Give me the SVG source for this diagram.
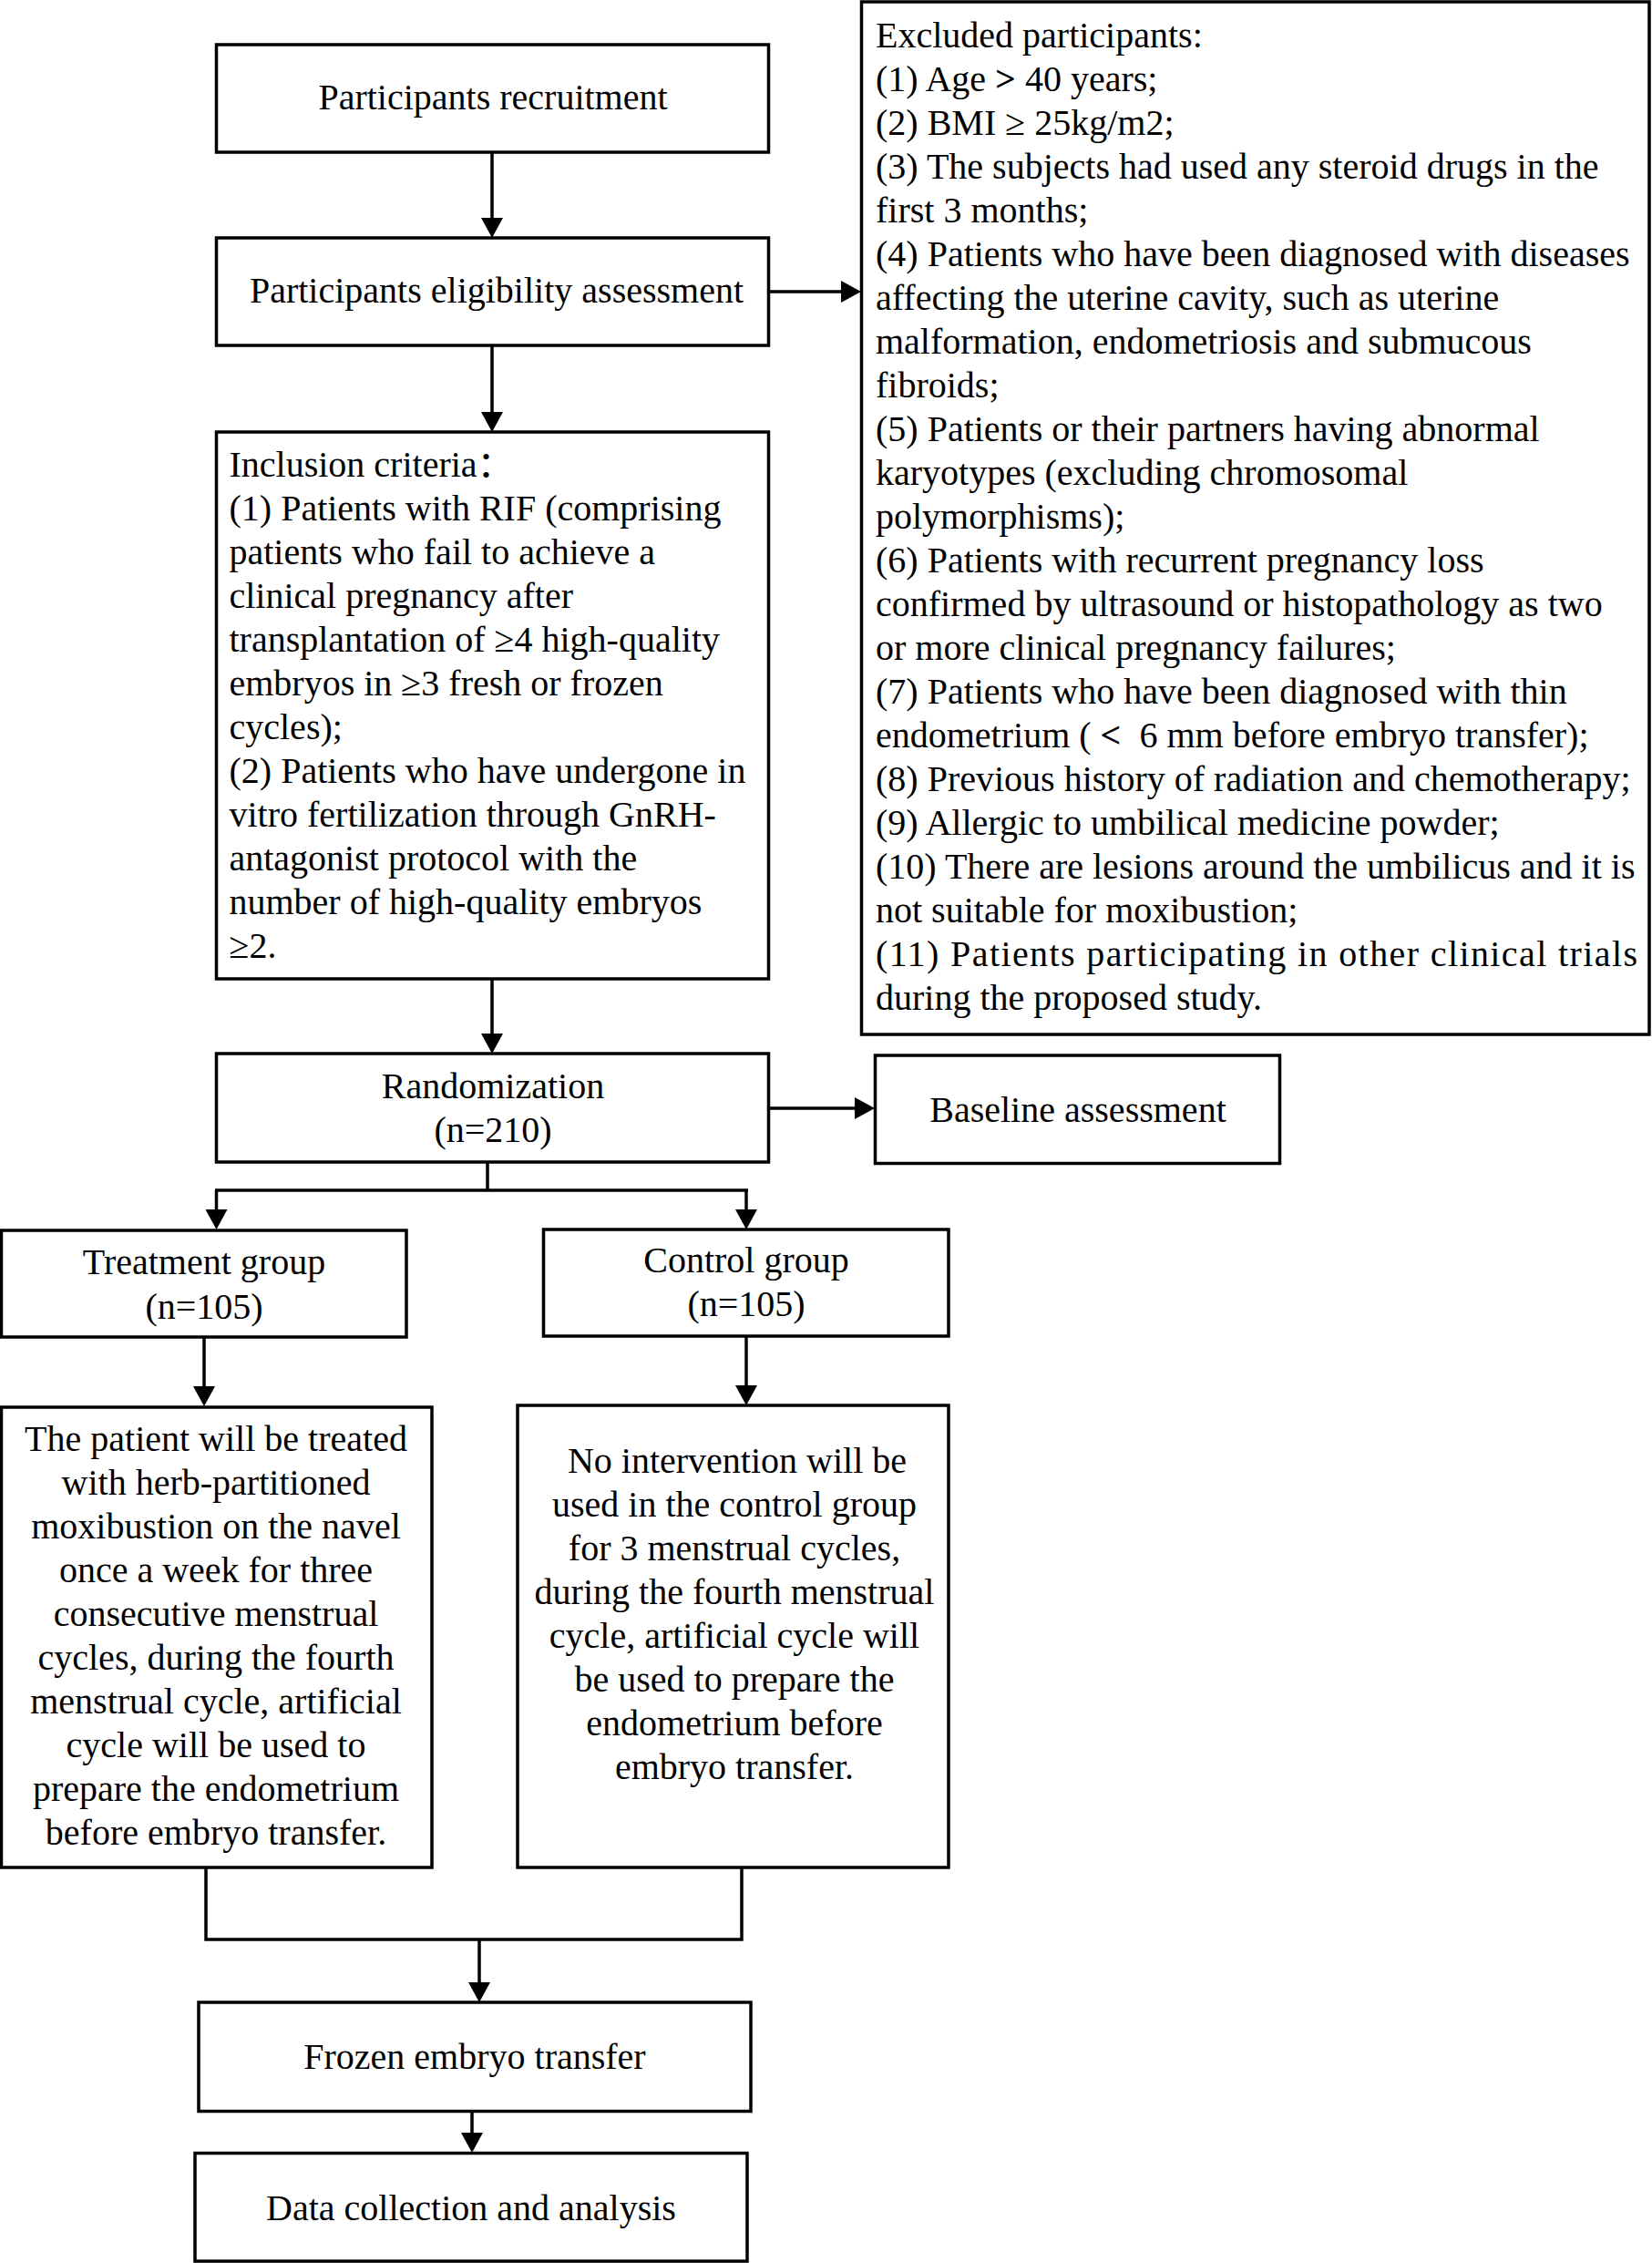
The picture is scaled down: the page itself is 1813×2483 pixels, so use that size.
<svg xmlns="http://www.w3.org/2000/svg" width="1813" height="2483" viewBox="0 0 1813 2483">
<style>
  .box{fill:#fff;stroke:#000;stroke-width:3.5}
  .t{font-family:"Liberation Serif","Times New Roman","Noto Sans CJK SC",serif;font-size:40px;fill:#000}
  .c{text-anchor:middle}
  .b{font-weight:bold}
  .ln{fill:none;stroke:#000;stroke-width:3.5}
</style>
<defs>
  <marker id="ah" viewBox="0 0 22 24" refX="0" refY="12" markerWidth="22" markerHeight="24" orient="auto" markerUnits="userSpaceOnUse">
    <path d="M0,0 L22,12 L0,24 Z" fill="#000"/>
  </marker>
</defs>
<rect width="1813" height="2483" fill="#fff"/>

<g id="connectors">
  <path class="ln" d="M540,167 V239" marker-end="url(#ah)"/>
  <path class="ln" d="M844,320 H923" marker-end="url(#ah)"/>
  <path class="ln" d="M540,379 V452" marker-end="url(#ah)"/>
  <path class="ln" d="M540,1074 V1134" marker-end="url(#ah)"/>
  <path class="ln" d="M844,1216 H938" marker-end="url(#ah)"/>
  <path class="ln" d="M535,1275 V1306"/>
  <path class="ln" d="M236,1306 H821"/>
  <path class="ln" d="M237.5,1306 V1327" marker-end="url(#ah)"/>
  <path class="ln" d="M819,1306 V1327" marker-end="url(#ah)"/>
  <path class="ln" d="M224,1467 V1521" marker-end="url(#ah)"/>
  <path class="ln" d="M819,1466 V1520" marker-end="url(#ah)"/>
  <path class="ln" d="M226,2049 V2128 H814 V2049"/>
  <path class="ln" d="M526,2128 V2175" marker-end="url(#ah)"/>
  <path class="ln" d="M518,2317 V2340" marker-end="url(#ah)"/>
</g>

<g id="recruitment">
  <rect class="box" x="237.5" y="49" width="606" height="118"/>
  <text class="t c" x="541" y="120">Participants recruitment</text>
</g>

<g id="eligibility">
  <rect class="box" x="237.5" y="261" width="606" height="118"/>
  <text class="t c" x="545" y="332">Participants eligibility assessment</text>
</g>

<g id="inclusion">
  <rect class="box" x="237.5" y="474" width="606" height="600"/>
  <text class="t" x="251.5" y="523">Inclusion criteria：</text>
  <text class="t" x="251.5" y="571">(1) Patients with RIF (comprising</text>
  <text class="t" x="251.5" y="619">patients who fail to achieve a</text>
  <text class="t" x="251.5" y="667">clinical pregnancy after</text>
  <text class="t" x="251.5" y="715">transplantation of ≥4 high-quality</text>
  <text class="t" x="251.5" y="763">embryos in ≥3 fresh or frozen</text>
  <text class="t" x="251.5" y="811">cycles);</text>
  <text class="t" x="251.5" y="859">(2) Patients who have undergone in</text>
  <text class="t" x="251.5" y="907">vitro fertilization through GnRH-</text>
  <text class="t" x="251.5" y="955">antagonist protocol with the</text>
  <text class="t" x="251.5" y="1003">number of high-quality embryos</text>
  <text class="t" x="251.5" y="1051">≥2.</text>
</g>

<g id="excluded">
  <rect class="box" x="945.5" y="2" width="864.5" height="1133"/>
  <text class="t" x="961" y="52">Excluded participants:</text>
  <text class="t" x="961" y="100">(1) Age <tspan class="b">&gt;</tspan> 40 years;</text>
  <text class="t" x="961" y="148">(2) BMI ≥ 25kg/m2;</text>
  <text class="t" x="961" y="196">(3) The subjects had used any steroid drugs in the</text>
  <text class="t" x="961" y="244">first 3 months;</text>
  <text class="t" x="961" y="292">(4) Patients who have been diagnosed with diseases</text>
  <text class="t" x="961" y="340">affecting the uterine cavity, such as uterine</text>
  <text class="t" x="961" y="388">malformation, endometriosis and submucous</text>
  <text class="t" x="961" y="436">fibroids;</text>
  <text class="t" x="961" y="484">(5) Patients or their partners having abnormal</text>
  <text class="t" x="961" y="532">karyotypes (excluding chromosomal</text>
  <text class="t" x="961" y="580">polymorphisms);</text>
  <text class="t" x="961" y="628">(6) Patients with recurrent pregnancy loss</text>
  <text class="t" x="961" y="676">confirmed by ultrasound or histopathology as two</text>
  <text class="t" x="961" y="724">or more clinical pregnancy failures;</text>
  <text class="t" x="961" y="772">(7) Patients who have been diagnosed with thin</text>
  <text class="t" x="961" y="820" xml:space="preserve">endometrium ( <tspan class="b">&lt;</tspan>  6 mm before embryo transfer);</text>
  <text class="t" x="961" y="868">(8) Previous history of radiation and chemotherapy;</text>
  <text class="t" x="961" y="916">(9) Allergic to umbilical medicine powder;</text>
  <text class="t" x="961" y="964">(10) There are lesions around the umbilicus and it is</text>
  <text class="t" x="961" y="1012">not suitable for moxibustion;</text>
  <text class="t" x="961" y="1060" textLength="836" lengthAdjust="spacing">(11) Patients participating in other clinical trials</text>
  <text class="t" x="961" y="1108">during the proposed study.</text>
</g>

<g id="randomization">
  <rect class="box" x="237.5" y="1156" width="606" height="119"/>
  <text class="t c" x="541" y="1205">Randomization</text>
  <text class="t c" x="541" y="1253">(n=210)</text>
</g>

<g id="baseline">
  <rect class="box" x="960.5" y="1158" width="444" height="118.5"/>
  <text class="t c" x="1183" y="1231">Baseline assessment</text>
</g>

<g id="treatment">
  <rect class="box" x="1.5" y="1350" width="444.5" height="117"/>
  <text class="t c" x="224" y="1398">Treatment group</text>
  <text class="t c" x="224" y="1447">(n=105)</text>
</g>

<g id="control">
  <rect class="box" x="596.5" y="1349" width="444.5" height="117"/>
  <text class="t c" x="819" y="1396">Control group</text>
  <text class="t c" x="819" y="1444">(n=105)</text>
</g>

<g id="treatment-detail">
  <rect class="box" x="1.5" y="1544" width="472.5" height="505"/>
  <text class="t c" x="237" y="1592">The patient will be treated</text>
  <text class="t c" x="237" y="1640">with herb-partitioned</text>
  <text class="t c" x="237" y="1688">moxibustion on the navel</text>
  <text class="t c" x="237" y="1736">once a week for three</text>
  <text class="t c" x="237" y="1784">consecutive menstrual</text>
  <text class="t c" x="237" y="1832">cycles, during the fourth</text>
  <text class="t c" x="237" y="1880">menstrual cycle, artificial</text>
  <text class="t c" x="237" y="1928">cycle will be used to</text>
  <text class="t c" x="237" y="1976">prepare the endometrium</text>
  <text class="t c" x="237" y="2024">before embryo transfer.</text>
</g>

<g id="control-detail">
  <rect class="box" x="568" y="1542" width="473" height="507"/>
  <text class="t c" x="809" y="1616">No intervention will be</text>
  <text class="t c" x="806" y="1664">used in the control group</text>
  <text class="t c" x="806" y="1712">for 3 menstrual cycles,</text>
  <text class="t c" x="806" y="1760">during the fourth menstrual</text>
  <text class="t c" x="806" y="1808">cycle, artificial cycle will</text>
  <text class="t c" x="806" y="1856">be used to prepare the</text>
  <text class="t c" x="806" y="1904">endometrium before</text>
  <text class="t c" x="806" y="1952">embryo transfer.</text>
</g>

<g id="frozen">
  <rect class="box" x="218" y="2197" width="606" height="119.5"/>
  <text class="t c" x="521" y="2270">Frozen embryo transfer</text>
</g>

<g id="data">
  <rect class="box" x="214" y="2362.5" width="606" height="118.5"/>
  <text class="t c" x="517" y="2436">Data collection and analysis</text>
</g>
</svg>
